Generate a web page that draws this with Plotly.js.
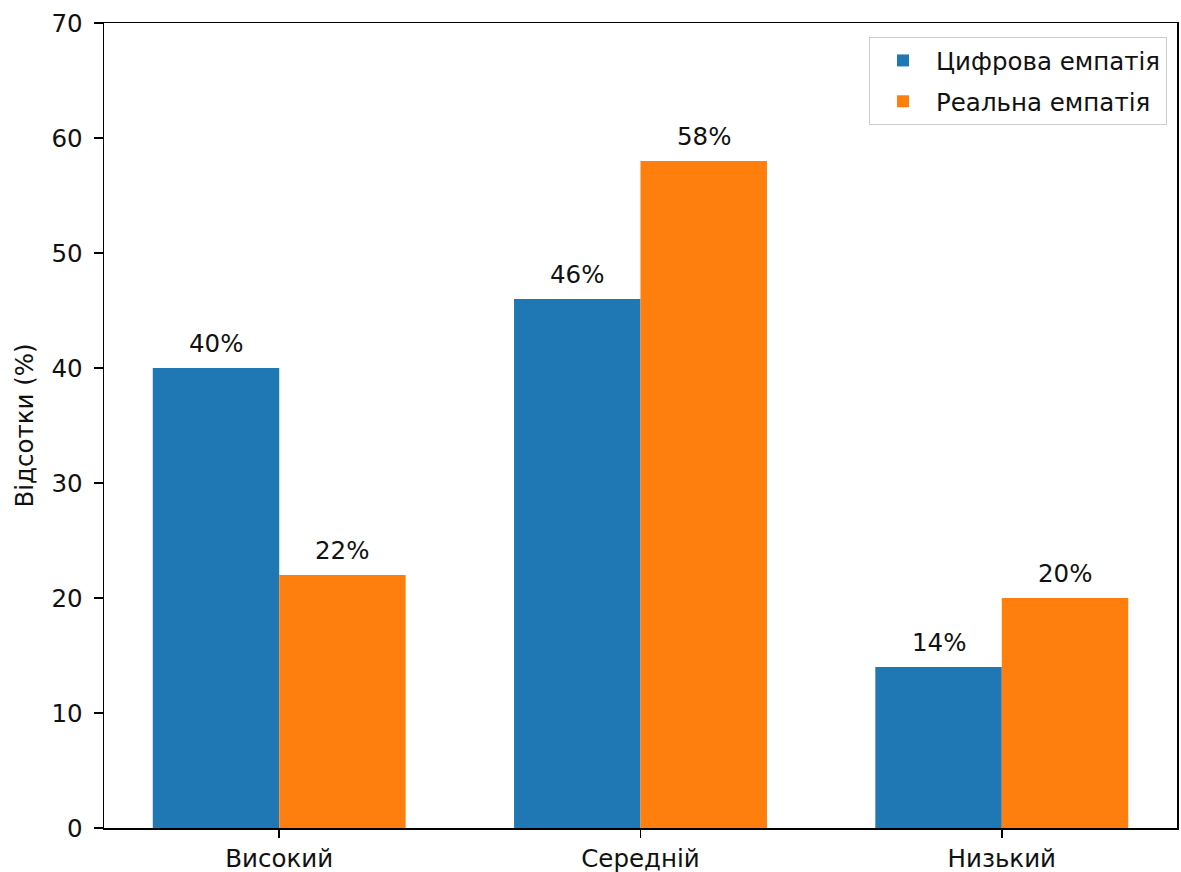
<!DOCTYPE html>
<html><head><meta charset="utf-8">
<script src="https://cdn.plot.ly/plotly-3.0.1.min.js"></script>
<style>body{margin:0;background:#fff}#c{width:1181px;height:872px}</style>
</head><body><div id="c"></div>
<script>
const categories = ["Високий", "Середній", "Низький"];
const digital = [40, 46, 14];
const real = [22, 58, 20];
const seriesNames = ["Цифрова емпатія", "Реальна емпатія"];
const yTicks = [0, 10, 20, 30, 40, 50, 60, 70];

const pos = categories.map((c, i) => i);
const font = {family: "DejaVu Sans", size: 24.5, color: "#111"};
const W = 0.35;
const traces = [
  {type: "bar", name: seriesNames[0], legendgroup: "a", x: pos.map(p => p - W/2), y: digital, width: W, marker: {color: "#1f77b4"}},
  {type: "bar", name: seriesNames[1], legendgroup: "b", x: pos.map(p => p + W/2), y: real, width: W, marker: {color: "#ff7f0e"}}
];
const annotations = [];
[digital, real].forEach((arr, s) => {
  arr.forEach((v, i) => {
    annotations.push({x: pos[i] + (s === 0 ? -W/2 : W/2), y: v, xref: "x", yref: "y", text: v + "%",
      showarrow: false, yanchor: "bottom", yshift: 8, font: font});
  });
});
const layout = {
  width: 1181, height: 872,
  margin: {l: 104, r: 4, t: 23, b: 44},
  paper_bgcolor: "#fff", plot_bgcolor: "#fff",
  font: font,
  barmode: "overlay",
  showlegend: true,
  legend: {x: 0.9907, y: 0.9826, xanchor: "right", yanchor: "top", bgcolor: "rgba(255,255,255,0.8)",
    bordercolor: "#cccccc", borderwidth: 1, font: font, itemwidth: 56, traceorder: "grouped", tracegroupgap: 6},
  xaxis: {range: [-0.485, 2.485], tickvals: pos, ticktext: categories, showgrid: false, zeroline: false,
    showline: true, mirror: true, linecolor: "#000", linewidth: 1.5, ticks: "outside", ticklen: 8,
    tickcolor: "#000", tickwidth: 1.5, tickfont: font},
  yaxis: {range: [0, 70], tickvals: yTicks, showgrid: false, zeroline: false, showline: true, mirror: true,
    linecolor: "#000", linewidth: 1.5, ticks: "outside", ticklen: 9, tickcolor: "#000", tickwidth: 1.5,
    ticklabelstandoff: 6,
    tickfont: font, title: {text: "Відсотки (%)", font: font, standoff: 11}},
  annotations: annotations
};
Plotly.newPlot("c", traces, layout, {staticPlot: true, displayModeBar: false});
</script></body></html>
